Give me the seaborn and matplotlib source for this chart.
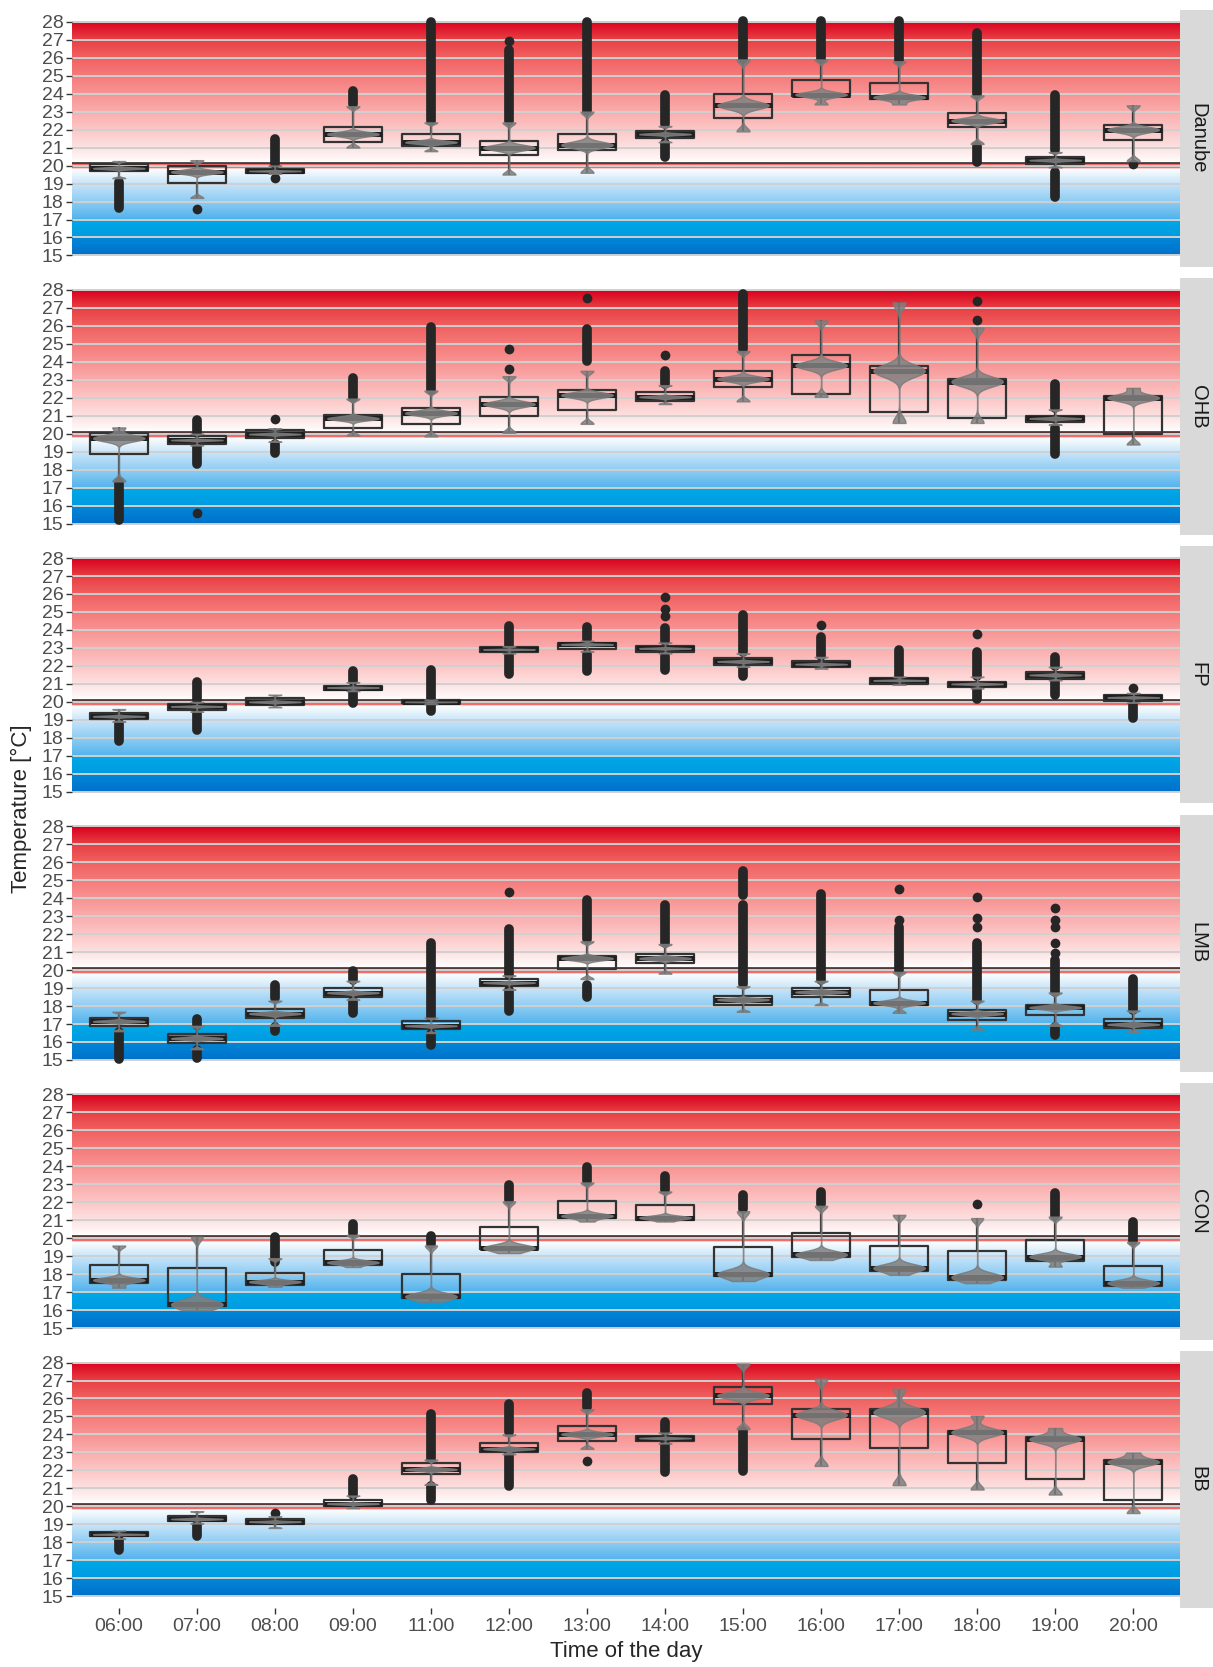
import numpy as np
import pandas as pd
import seaborn as sns
import matplotlib.pyplot as plt
from matplotlib.patches import Rectangle
from matplotlib.colors import to_rgb

sns.set_theme(style="white")
plt.rcParams['font.family'] = ['Liberation Sans', 'DejaVu Sans']

times = ["06:00", "07:00", "08:00", "09:00", "11:00", "12:00", "13:00",
         "14:00", "15:00", "16:00", "17:00", "18:00", "19:00", "20:00"]
sites = ["Danube", "OHB", "FP", "LMB", "CON", "BB"]

# box statistics: q1, median, q3, whisker ends
danube_q1 = [19.7, 19.05, 19.6, 21.3, 21.1, 20.6, 20.85, 21.55, 22.65, 23.85, 23.7, 22.15, 20.1, 21.4]
danube_med = [19.85, 19.65, 19.7, 21.75, 21.3, 21.0, 21.15, 21.75, 23.35, 23.95, 23.8, 22.5, 20.3, 22.0]
danube_q3 = [20.1, 19.95, 19.8, 22.15, 21.75, 21.35, 21.75, 21.9, 24.0, 24.75, 24.6, 22.95, 20.45, 22.25]
danube_lo = [19.3, 18.2, 19.55, 21.0, 20.8, 19.5, 19.6, 21.3, 21.9, 23.4, 23.4, 21.2, 19.9, 20.25]
danube_hi = [20.25, 20.3, 20.0, 23.3, 22.4, 22.4, 23.0, 22.2, 25.9, 25.9, 25.8, 23.9, 20.75, 23.35]

ohb_q1 = [18.9, 19.45, 19.75, 20.3, 20.55, 21.0, 21.3, 21.8, 22.6, 22.2, 21.2, 20.85, 20.65, 20.0]
ohb_med = [19.75, 19.65, 19.98, 20.85, 21.15, 21.65, 22.15, 22.05, 23.05, 23.8, 23.5, 22.9, 20.85, 22.0]
ohb_q3 = [20.05, 19.85, 20.2, 21.05, 21.45, 22.05, 22.45, 22.3, 23.5, 24.4, 23.75, 23.05, 21.0, 22.1]
ohb_lo = [17.35, 19.35, 19.55, 19.9, 19.85, 20.05, 20.55, 21.65, 21.8, 22.05, 20.6, 20.6, 20.5, 19.4]
ohb_hi = [20.35, 20.0, 20.3, 21.95, 22.4, 23.2, 23.5, 22.7, 24.6, 26.3, 27.3, 25.9, 21.35, 22.55]

fp_q1 = [19.05, 19.55, 19.8, 20.65, 19.92, 22.75, 22.95, 22.78, 22.07, 21.93, 21.02, 20.82, 21.3, 20.05]
fp_med = [19.2, 19.75, 20.0, 20.8, 20.0, 22.92, 23.2, 22.98, 22.25, 22.1, 21.2, 21.0, 21.5, 20.25]
fp_q3 = [19.4, 19.9, 20.2, 20.9, 20.08, 23.05, 23.3, 23.12, 22.42, 22.25, 21.33, 21.12, 21.66, 20.37]
fp_lo = [18.9, 19.45, 19.7, 20.6, 19.88, 22.7, 22.8, 22.7, 21.95, 21.85, 20.95, 20.75, 21.2, 19.95]
fp_hi = [19.6, 20.0, 20.4, 21.1, 20.12, 23.1, 23.4, 23.3, 22.7, 22.5, 21.4, 21.4, 21.95, 20.5]

lmb_q1 = [16.9, 15.96, 17.36, 18.51, 16.71, 19.13, 20.04, 20.37, 18.08, 18.51, 18.05, 17.21, 17.49, 16.8]
lmb_med = [17.15, 16.2, 17.58, 18.74, 16.9, 19.3, 20.65, 20.65, 18.36, 18.78, 18.18, 17.58, 17.92, 16.98]
lmb_q3 = [17.36, 16.47, 17.86, 18.98, 17.14, 19.5, 20.78, 20.9, 18.57, 19.03, 18.89, 17.77, 18.08, 17.3]
lmb_lo = [16.6, 15.6, 16.9, 18.35, 16.5, 18.9, 19.5, 19.8, 17.68, 18.05, 17.62, 16.69, 16.9, 16.56]
lmb_hi = [17.68, 16.9, 18.3, 19.4, 17.35, 19.7, 21.6, 21.45, 19.1, 19.4, 19.9, 18.3, 18.75, 17.75]

con_q1 = [17.53, 16.24, 17.4, 18.51, 16.65, 19.39, 21.12, 21.02, 17.9, 18.94, 18.18, 17.68, 18.75, 17.36]
con_med = [17.68, 16.35, 17.58, 18.66, 16.78, 19.48, 21.25, 21.15, 18.03, 19.11, 18.36, 17.86, 18.98, 17.53]
con_q3 = [18.51, 18.33, 18.05, 19.37, 18.01, 20.62, 22.08, 21.86, 19.5, 20.28, 19.56, 19.31, 19.89, 18.47]
con_lo = [17.25, 16.0, 17.3, 18.4, 16.47, 19.17, 20.93, 20.93, 17.62, 18.79, 17.96, 17.5, 18.42, 17.25]
con_hi = [19.59, 20.09, 18.89, 20.19, 19.6, 22.05, 23.1, 22.6, 21.5, 21.8, 21.3, 21.12, 21.2, 19.8]

bb_q1 = [18.33, 19.17, 19.02, 20.01, 21.82, 23.03, 23.65, 23.65, 25.67, 23.74, 23.27, 22.43, 21.54, 20.38]
bb_med = [18.45, 19.3, 19.15, 20.15, 22.06, 23.2, 24.02, 23.8, 26.17, 25.09, 25.24, 24.12, 23.74, 22.47]
bb_q3 = [18.55, 19.48, 19.3, 20.34, 22.43, 23.52, 24.49, 23.93, 26.64, 25.42, 25.42, 24.21, 23.87, 22.56]
bb_lo = [18.2, 19.05, 18.8, 19.9, 21.2, 22.9, 23.2, 23.5, 24.3, 22.25, 21.18, 20.94, 20.66, 19.63]
bb_hi = [18.65, 19.73, 19.45, 20.6, 22.6, 24.0, 25.4, 24.1, 27.94, 27.1, 26.54, 25.05, 24.36, 22.99]

# dense columns of outliers (from, to) and single outliers
danube_runs = [("06:00", 17.65, 19.1), ("08:00", 20.1, 21.5), ("09:00", 23.4, 24.15),
               ("11:00", 22.5, 28.0), ("12:00", 22.5, 26.45), ("13:00", 23.05, 28.0),
               ("14:00", 22.3, 23.95), ("14:00", 20.45, 21.25), ("15:00", 25.95, 28.05),
               ("16:00", 25.95, 28.05), ("17:00", 25.85, 28.05), ("18:00", 24.0, 27.35),
               ("18:00", 20.2, 21.1), ("19:00", 20.85, 23.95), ("19:00", 18.25, 19.65)]
danube_pts = [("07:00", 17.6), ("08:00", 19.3), ("12:00", 26.9), ("20:00", 20.1)]

ohb_runs = [("06:00", 15.2, 17.3), ("07:00", 20.05, 20.75), ("07:00", 18.3, 19.25),
            ("08:00", 18.95, 19.45), ("09:00", 22.0, 23.1), ("11:00", 22.45, 25.95),
            ("13:00", 24.05, 25.85), ("14:00", 22.75, 23.5), ("15:00", 24.7, 27.75),
            ("19:00", 21.45, 22.75), ("19:00", 18.85, 20.3)]
ohb_pts = [("07:00", 15.6), ("08:00", 20.8), ("12:00", 24.7), ("12:00", 23.6),
           ("13:00", 27.55), ("14:00", 24.4), ("18:00", 27.4), ("18:00", 26.35)]

fp_runs = [("06:00", 17.8, 18.8), ("07:00", 20.1, 21.1), ("07:00", 18.45, 19.4),
           ("09:00", 21.15, 21.7), ("09:00", 19.95, 20.6), ("11:00", 20.15, 21.8),
           ("11:00", 19.5, 19.85), ("12:00", 23.15, 24.2), ("12:00", 21.55, 22.65),
           ("13:00", 23.5, 24.15), ("13:00", 21.7, 22.65), ("14:00", 23.4, 24.1),
           ("14:00", 21.8, 22.55), ("15:00", 22.75, 24.85), ("15:00", 21.45, 21.9),
           ("16:00", 22.55, 23.6), ("17:00", 21.45, 22.9), ("18:00", 21.45, 22.75),
           ("18:00", 20.15, 20.7), ("19:00", 22.0, 22.5), ("19:00", 20.4, 21.15),
           ("20:00", 19.1, 19.85)]
fp_pts = [("14:00", 25.85), ("14:00", 25.15), ("14:00", 24.8), ("16:00", 24.3),
          ("18:00", 23.75), ("20:00", 20.8)]

lmb_runs = [("06:00", 15.05, 16.55), ("07:00", 16.95, 17.3), ("07:00", 15.1, 15.55),
            ("08:00", 18.42, 19.15), ("08:00", 16.6, 16.85), ("09:00", 19.45, 19.95),
            ("09:00", 17.6, 18.3), ("11:00", 17.4, 21.5), ("11:00", 15.85, 16.45),
            ("12:00", 19.72, 22.3), ("12:00", 17.7, 18.88), ("13:00", 21.7, 23.9),
            ("13:00", 18.5, 19.15), ("14:00", 21.5, 23.6), ("15:00", 19.2, 23.6),
            ("15:00", 24.2, 25.5), ("16:00", 19.45, 24.25), ("17:00", 20.0, 22.4),
            ("18:00", 18.35, 21.5), ("19:00", 18.8, 20.55), ("19:00", 16.4, 16.85),
            ("20:00", 17.8, 19.5)]
lmb_pts = [("12:00", 24.33), ("17:00", 24.52), ("17:00", 22.8), ("18:00", 24.04),
           ("18:00", 22.88), ("18:00", 22.42), ("19:00", 23.44), ("19:00", 22.79),
           ("19:00", 22.42), ("19:00", 21.53), ("19:00", 20.97)]

con_runs = [("08:00", 18.7, 20.05), ("09:00", 20.3, 20.8), ("11:00", 19.7, 20.1),
            ("12:00", 22.15, 22.95), ("13:00", 23.2, 23.95), ("14:00", 22.7, 23.45),
            ("15:00", 21.6, 22.4), ("16:00", 21.9, 22.55), ("19:00", 21.25, 22.5),
            ("20:00", 19.85, 20.9)]
con_pts = [("18:00", 21.92)]

bb_runs = [("06:00", 17.58, 18.14), ("07:00", 18.36, 18.98), ("09:00", 20.66, 21.5),
           ("11:00", 22.62, 25.14), ("11:00", 20.38, 21.13), ("12:00", 24.12, 25.7),
           ("12:00", 21.15, 22.85), ("13:00", 25.52, 26.3), ("14:00", 24.21, 24.68),
           ("14:00", 21.93, 23.46), ("15:00", 21.97, 24.21)]
bb_pts = [("08:00", 19.63), ("13:00", 22.53)]

stats = {
    "Danube": (danube_q1, danube_med, danube_q3, danube_lo, danube_hi, danube_runs, danube_pts),
    "OHB": (ohb_q1, ohb_med, ohb_q3, ohb_lo, ohb_hi, ohb_runs, ohb_pts),
    "FP": (fp_q1, fp_med, fp_q3, fp_lo, fp_hi, fp_runs, fp_pts),
    "LMB": (lmb_q1, lmb_med, lmb_q3, lmb_lo, lmb_hi, lmb_runs, lmb_pts),
    "CON": (con_q1, con_med, con_q3, con_lo, con_hi, con_runs, con_pts),
    "BB": (bb_q1, bb_med, bb_q3, bb_lo, bb_hi, bb_runs, bb_pts),
}

# background temperature scale (per degree colour stops)
bg_y = [15, 16, 16, 17, 17, 18, 19, 19.82, 19.82, 20.12, 20.12, 21, 22, 23, 24, 25, 26, 27, 28]
bg_c = ["#0071cb", "#0088d8", "#0099e0", "#00aae8", "#52b3ec", "#8fcdf3", "#c9e5f9", "#ffffff",
        "#f26a6a", "#f26a6a", "#ffffff", "#fde1e1", "#fcc6c6", "#faacac", "#f89393",
        "#f57a7a", "#f06060", "#e83f44", "#d9001e"]
yy = np.linspace(15, 28, 1301)
rgb = np.array([to_rgb(c) for c in bg_c])
bg_img = np.stack([np.interp(yy, bg_y, rgb[:, k]) for k in range(3)], axis=1)[:, None, :]

fig, axes = plt.subplots(6, 1, figsize=(12.13, 16.67), dpi=100)
fig.subplots_adjust(left=72/1213, right=1180/1213, top=1-10/1667, bottom=1-1608/1667,
                    hspace=11/257)

out_col = "#262626"
for ax, site in zip(axes, sites):
    q1, med, q3, lo, hi, runs, pts = stats[site]
    ax.imshow(bg_img, extent=(-0.6, 13.6, 15, 28), aspect="auto", origin="lower",
              interpolation="bilinear", zorder=0)
    for v in range(15, 29):
        ax.axhline(v, color="#d0d0d0", lw=1.4, zorder=0.5)
    ax.axhline(20.12, color="#262626", lw=1.1, zorder=1)

    box_df = pd.DataFrame({"time": np.repeat(times, 5),
                           "temp": np.column_stack([lo, q1, med, q3, hi]).ravel()})
    sns.boxplot(data=box_df, x="time", y="temp", order=times, ax=ax, fill=False,
                color="#333333", linecolor="#333333", linewidth=1.6, width=0.75,
                whis=(0, 100), showfliers=False, showcaps=False,
                medianprops={"color": "#1f1f1f", "linewidth": 3.6})

    run_df = pd.DataFrame(runs, columns=["time", "lo", "hi"])
    lc = ax.vlines([times.index(t) for t in run_df["time"]], run_df["lo"], run_df["hi"],
                   colors=out_col, lw=7, zorder=2.5)
    lc.set_capstyle("round")
    pt_df = pd.DataFrame(pts, columns=["time", "temp"])
    sns.stripplot(data=pt_df, x="time", y="temp", order=times, jitter=False,
                  color=out_col, size=7, linewidth=0, ax=ax, zorder=2.6)

    # violin: mass at the median, thin tails to the whisker ends
    vio_df = pd.DataFrame({"time": np.repeat(times, 6),
                           "temp": np.column_stack([lo, med, med, med, med, hi]).ravel()})
    n0 = len(ax.collections)
    sns.violinplot(data=vio_df, x="time", y="temp", order=times, ax=ax, color="#808080",
                   inner=None, cut=0, bw_method=0.16, density_norm="width", width=0.66,
                   linewidth=1.0, linecolor="#7a7a7a", saturation=1)
    for c in ax.collections[n0:]:
        c.set_alpha(0.85)
        c.set_zorder(3)

    ax.set_xlim(-0.6, 13.6)
    ax.set_ylim(14.35, 28.65)
    ax.set_yticks(range(15, 29))
    ax.set_xlabel("")
    ax.set_ylabel("")
    for s in ax.spines.values():
        s.set_visible(False)
    ax.tick_params(axis="y", left=True, length=4, width=1, color="#333333",
                   labelsize=14, labelcolor="#4d4d4d", pad=2)
    ax.tick_params(axis="x", bottom=True, length=4, width=1, color="#333333",
                   labelsize=14, labelcolor="#4d4d4d", pad=3)
    if ax is not axes[-1]:
        ax.tick_params(axis="x", bottom=False, labelbottom=False)

    pos = ax.get_position()
    fig.add_artist(Rectangle((pos.x1, pos.y0), 40/1213, pos.height, transform=fig.transFigure,
                             facecolor="#d9d9d9", edgecolor="none"))
    fig.text(pos.x1 + 18/1213, (pos.y0 + pos.y1) / 2, site, rotation=270, ha="center",
             va="center", fontsize=14.5, color="#1a1a1a")

fig.text(626/1213, 1 - 1651/1667, "Time of the day", ha="center", va="center", fontsize=16)
fig.text(21/1213, 1 - 809/1667, "Temperature [°C]", ha="center", va="center",
         rotation=90, fontsize=16)

fig.savefig("out.png", dpi=100)
